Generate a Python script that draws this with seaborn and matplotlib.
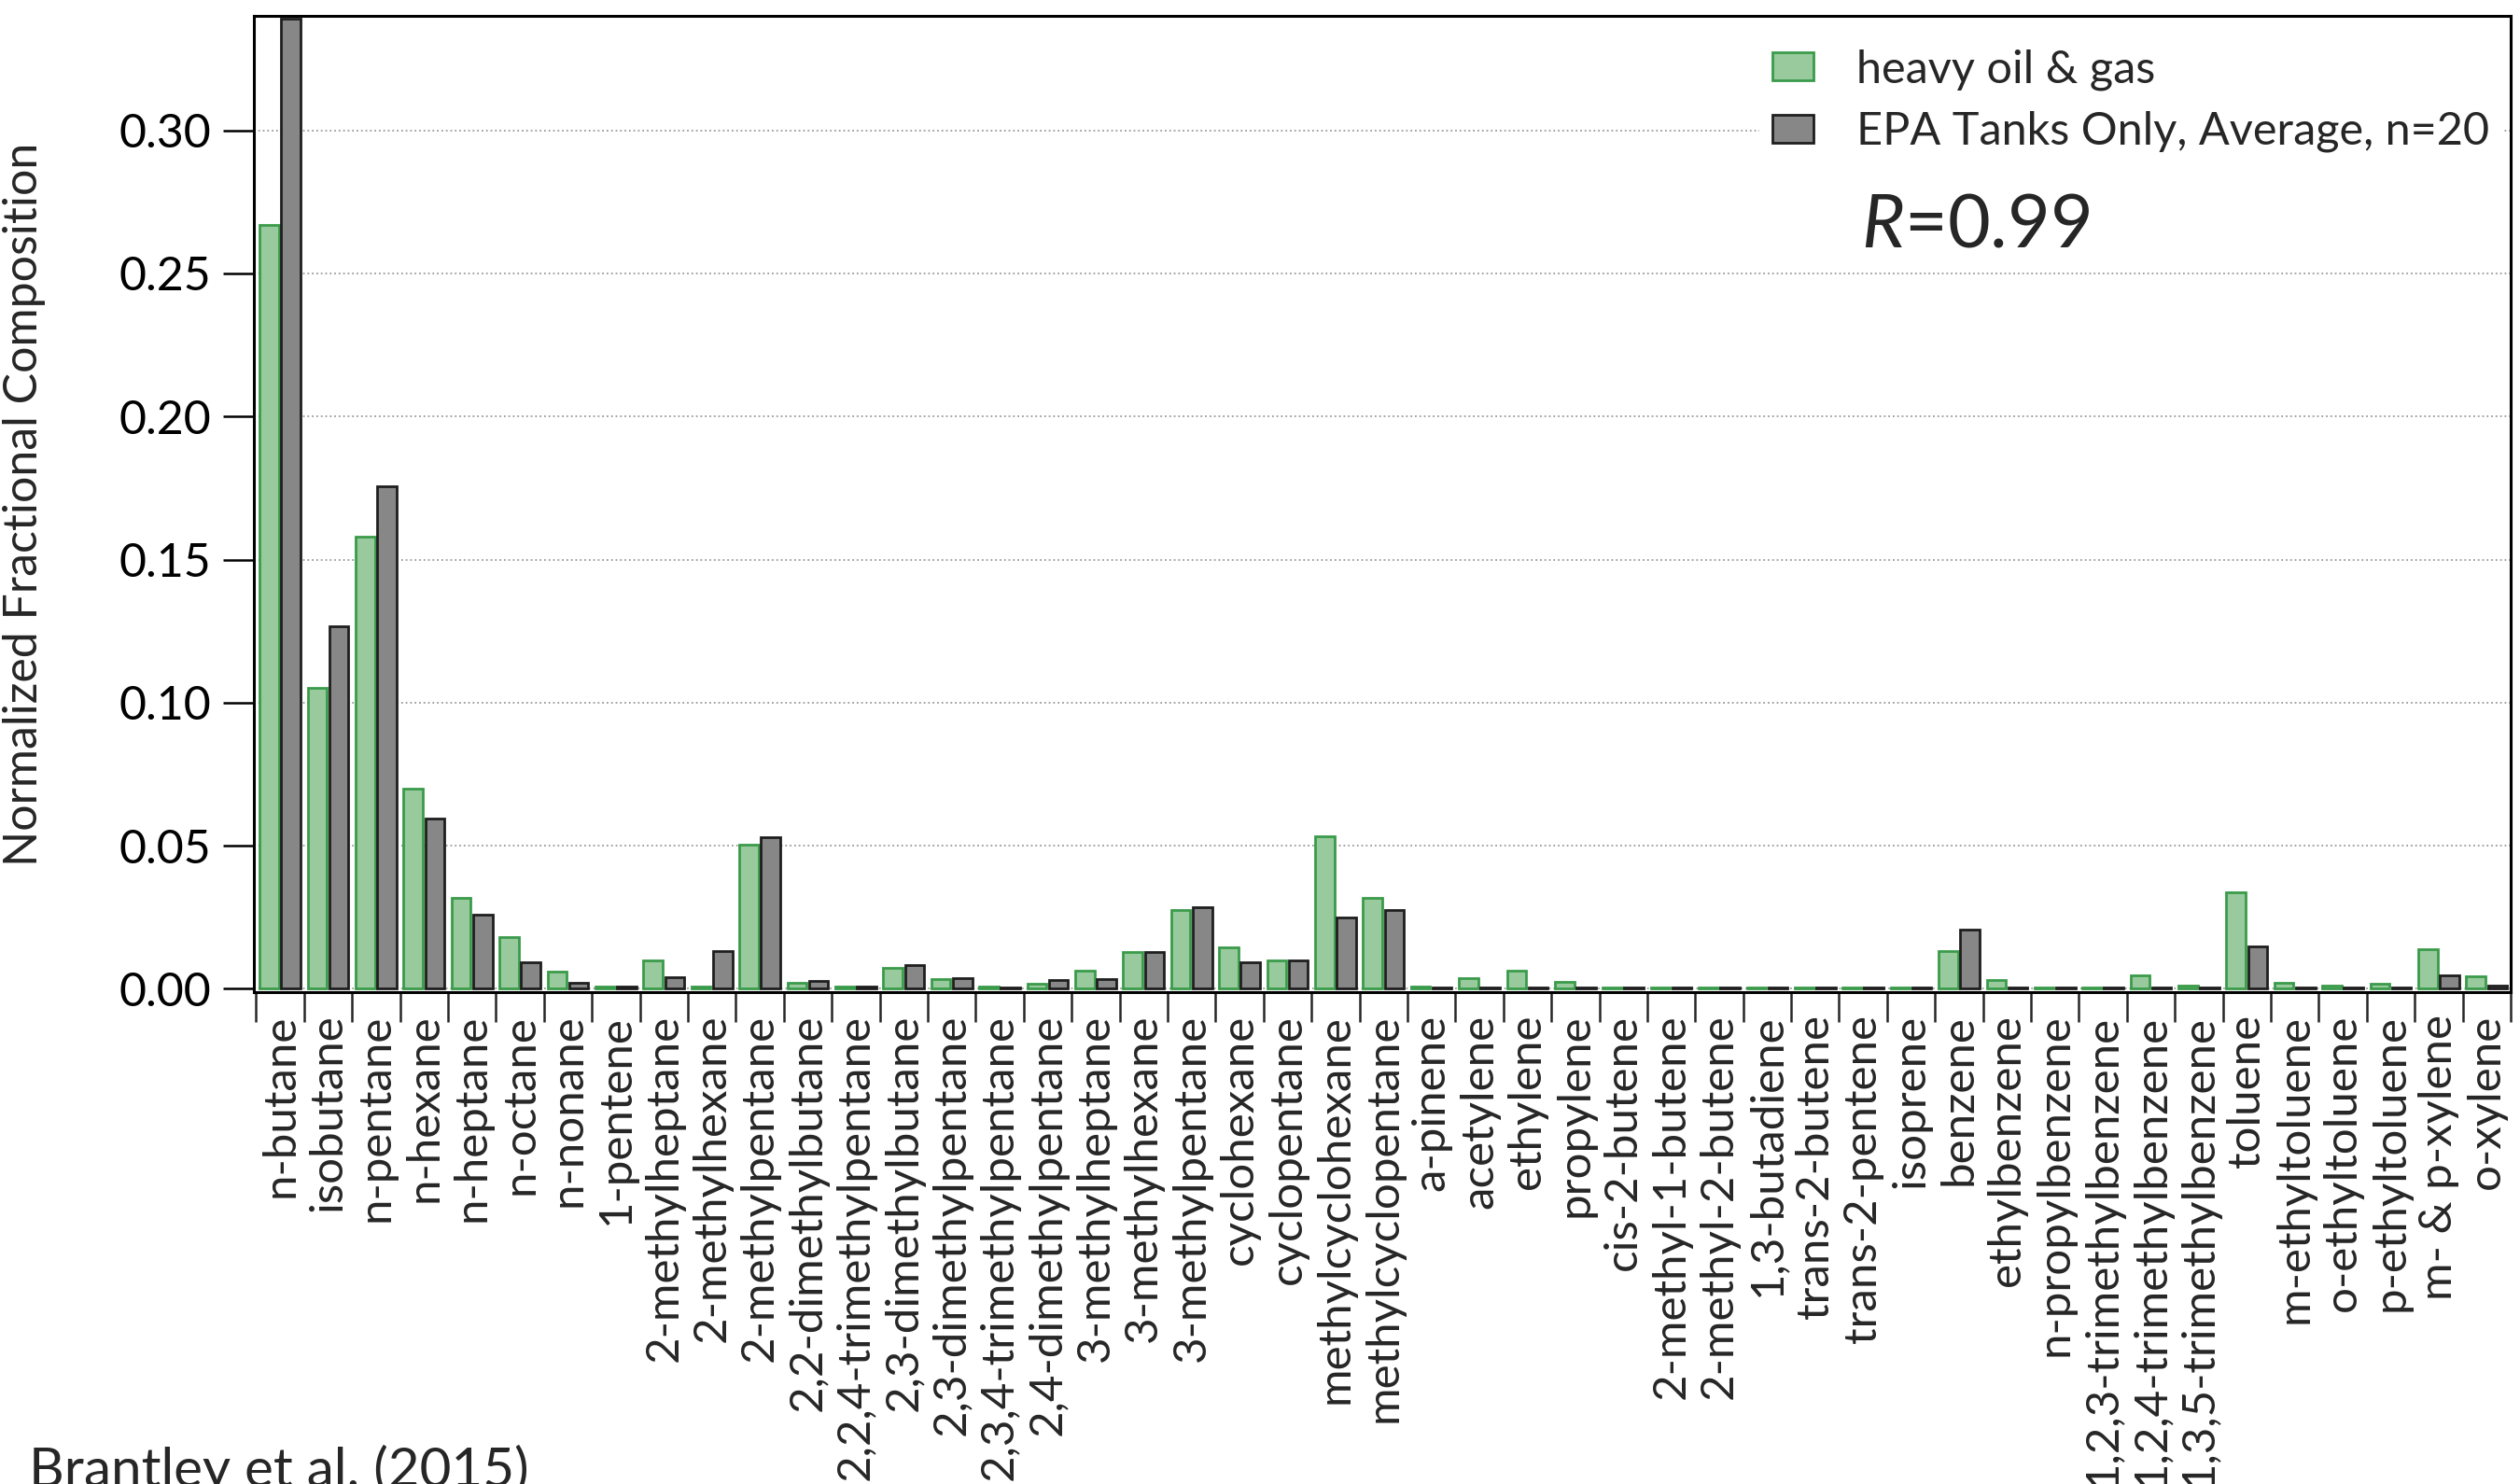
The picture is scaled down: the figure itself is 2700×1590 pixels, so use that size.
import numpy as np
import pandas as pd
import seaborn as sns
import matplotlib.pyplot as plt
from matplotlib.patches import Patch

# Compounds and the two normalized compositions
compounds = [
    'n-butane', 'isobutane', 'n-pentane', 'n-hexane', 'n-heptane', 'n-octane',
    'n-nonane', '1-pentene', '2-methylheptane', '2-methylhexane',
    '2-methylpentane', '2,2-dimethylbutane', '2,2,4-trimethylpentane',
    '2,3-dimethylbutane', '2,3-dimethylpentane', '2,3,4-trimethylpentane',
    '2,4-dimethylpentane', '3-methylheptane', '3-methylhexane',
    '3-methylpentane', 'cyclohexane', 'cyclopentane', 'methylcyclohexane',
    'methylcyclopentane', 'a-pinene', 'acetylene', 'ethylene', 'propylene',
    'cis-2-butene', '2-methyl-1-butene', '2-methyl-2-butene', '1,3-butadiene',
    'trans-2-butene', 'trans-2-pentene', 'isoprene', 'benzene', 'ethylbenzene',
    'n-propylbenzene', '1,2,3-trimethylbenzene', '1,2,4-trimethylbenzene',
    '1,3,5-trimethylbenzene', 'toluene', 'm-ethyltoluene', 'o-ethyltoluene',
    'p-ethyltoluene', 'm- & p-xylene', 'o-xylene',
]

heavy_oil_gas = [
    0.267, 0.105, 0.158, 0.070, 0.0318, 0.018, 0.006, 0.0007, 0.010, 0.0007,
    0.0505, 0.002, 0.0007, 0.0073, 0.0035, 0.0007, 0.0017, 0.0064, 0.0129,
    0.0274, 0.0146, 0.0099, 0.0532, 0.0318, 0.0009, 0.0037, 0.0062, 0.0024,
    0.0006, 0.0006, 0.0006, 0.0006, 0.0006, 0.0006, 0.0006, 0.0133, 0.0032,
    0.0006, 0.0006, 0.0046, 0.0012, 0.0336, 0.0022, 0.0012, 0.0018, 0.0139,
    0.0043,
]

epa_tanks = [
    0.339, 0.1268, 0.1755, 0.0594, 0.0258, 0.0092, 0.0022, 0.0007, 0.0041,
    0.0133, 0.053, 0.0026, 0.0007, 0.0083, 0.0038, 0.0005, 0.003, 0.0035,
    0.0127, 0.0286, 0.0092, 0.0099, 0.0248, 0.0274, 0.0005, 0.0005, 0.0005,
    0.0005, 0.0005, 0.0005, 0.0005, 0.0005, 0.0005, 0.0005, 0.0005, 0.0207,
    0.0005, 0.0005, 0.0005, 0.0005, 0.0005, 0.0149, 0.0005, 0.0005, 0.0005,
    0.0046, 0.001,
]

series_names = ['heavy oil & gas', 'EPA Tanks Only, Average, n=20']
y_ticks = [0.00, 0.05, 0.10, 0.15, 0.20, 0.25, 0.30]

fill_colors = ['#98ca9e', '#878787']
edge_colors = ['#3a9b4a', '#1e1e1e']

# long-form table for seaborn
df = pd.DataFrame({
    'compound': compounds * 2,
    'fraction': heavy_oil_gas + epa_tanks,
    'source': [series_names[0]] * len(compounds) + [series_names[1]] * len(compounds),
})

sns.set_style('ticks')
plt.rcParams['font.family'] = ['Lato', 'DejaVu Sans']
plt.rcParams['mathtext.fontset'] = 'custom'
plt.rcParams['mathtext.rm'] = 'Lato'
plt.rcParams['mathtext.it'] = 'Lato:italic'

fig = plt.figure(figsize=(27, 15.9), dpi=100)
ax = fig.add_axes([0.1007, 0.3314, 0.8956, 0.6579])

sns.barplot(data=df, x='compound', y='fraction', hue='source',
            palette=fill_colors, saturation=1, width=0.9, gap=0.11,
            legend=False, ax=ax)

for container, edge in zip(ax.containers, edge_colors):
    for bar in container:
        bar.set_edgecolor(edge)
        bar.set_linewidth(2)

ax.set_xlim(-0.55, len(compounds) - 0.5)
ax.set_ylim(-0.0012, 0.340)

# grid
ax.set_axisbelow(True)
ax.yaxis.grid(True, linestyle=':', color='#9a9a9a', linewidth=1.3)
ax.xaxis.grid(False)

# y axis
ax.set_yticks(y_ticks)
ax.set_yticklabels([f'{t:.2f}' for t in y_ticks])
ax.tick_params(axis='y', which='major', length=24, width=1.8, pad=9,
               labelsize=36, colors='black')
ax.set_ylabel('Normalized Fractional Composition', fontsize=36)
ax.yaxis.set_label_coords(-0.092, 0.5)

# x axis: labels centred, tick marks between categories
ax.set_xticks(np.arange(len(compounds)))
ax.set_xticklabels(compounds, rotation=90, fontsize=35.5)
ax.set_xticks(np.arange(-0.5, len(compounds)), minor=True)
ax.tick_params(axis='x', which='major', length=0, pad=17)
ax.tick_params(axis='x', which='minor', length=23, width=1.8)
ax.set_xlabel('')

for side in ['left', 'right', 'top', 'bottom']:
    ax.spines[side].set_visible(True)
    ax.spines[side].set_linewidth(2.2)
    ax.spines[side].set_color('black')

handles = [Patch(facecolor=fill_colors[i], edgecolor=edge_colors[i],
                 linewidth=2, label=series_names[i]) for i in range(2)]
leg = ax.legend(handles=handles, loc='upper left',
                bbox_to_anchor=(0.667, 0.98), fontsize=35,
                frameon=True, framealpha=1, edgecolor='none',
                fancybox=False, borderpad=0.3, borderaxespad=0,
                handlelength=0.9, handleheight=0.58, handletextpad=0.95,
                labelspacing=0.45)

ax.text(0.712, 0.784, r'$R$=0.99', transform=ax.transAxes,
        fontsize=57, va='center', ha='left')

fig.text(0.0115, 0.0264, 'Brantley et al. (2015)', fontsize=42,
         va='top', ha='left')

fig.savefig('out.png', dpi=100)
